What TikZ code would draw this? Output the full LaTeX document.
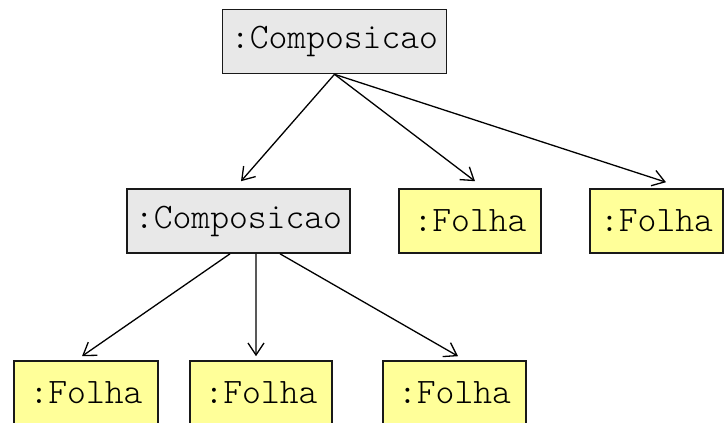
\documentclass[tikz,border=0pt]{standalone}
\usepackage{fontspec}
\newfontfamily\lightmono{Latin Modern Mono Light}
\usetikzlibrary{arrows.meta,calc}
\definecolor{compfill}{HTML}{E8E8E8}
\definecolor{leaffill}{HTML}{FFFF99}
\tikzset{
  objbox/.style={draw=black!90, line width=1.6bp, inner sep=0pt, minimum height=64bp,
     font=\lightmono\fontsize{36}{40}\selectfont, anchor=center},
  comp/.style={objbox, fill=compfill, minimum width=224bp},
  leaf/.style={objbox, fill=leaffill, minimum width=143bp},
  link/.style={draw=black, line width=1.3bp, -{Straight Barb[length=12bp,width=16bp,line width=1.3bp]}}
}
\begin{document}
\begin{tikzpicture}[x=1bp,y=-1bp]
\useasboundingbox (0,0) rectangle (725,422);
\clip (0,0) rectangle (725,422);
\fill[white] (0,0) rectangle (725,422);
\node[comp] (top) at (334.5,41.5) {:Composicao};
\node[comp, minimum width=223bp] (mid) at (238.5,221) {:Composicao};
\node[leaf, minimum width=142bp] (f1) at (470,221) {:Folha};
\node[leaf, minimum width=133bp] (f2) at (656.5,221) {:Folha};
\node[leaf, minimum width=144bp] (b1) at (86,393) {:Folha};
\node[leaf, minimum width=142bp] (b2) at (261,393) {:Folha};
\node[leaf, minimum width=143bp] (b3) at (454.5,393) {:Folha};
\coordinate (t1) at ($(mid.north)+(2.5,-7)$);
\coordinate (t2) at ($(f1.north)+(5,-7)$);
\coordinate (t3) at ($(f2.north)+(9.5,-6)$);
\coordinate (t4) at ($(b1.north)+(-4,-4)$);
\coordinate (t5) at ($(b2.north)+(-5,-4)$);
\coordinate (t6) at ($(b3.north)+(3.5,-4)$);
\coordinate (s1) at ($(mid.south)+(-8.5,0)$);
\coordinate (s2) at ($(mid.south)+(17.5,0)$);
\coordinate (s3) at ($(mid.south)+(41.5,0)$);
\draw[link] (top.south) -- (t1);
\draw[link] (top.south) -- (t2);
\draw[link] (top.south) -- (t3);
\draw[link] (s1) -- (t4);
\draw[link] (s2) -- (t5);
\draw[link] (s3) -- (t6);
\end{tikzpicture}
\end{document}
